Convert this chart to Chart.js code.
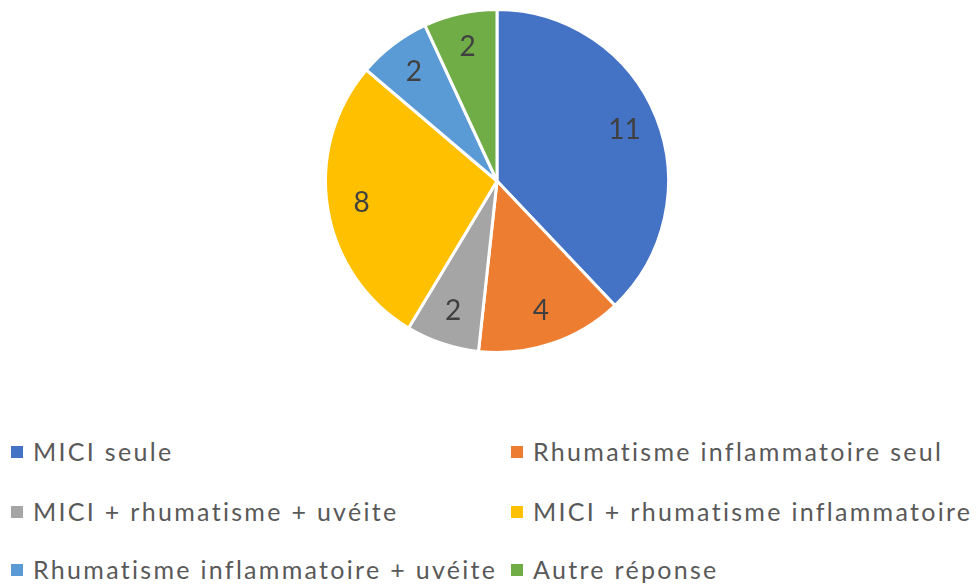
<!DOCTYPE html>
<html>
<head>
<meta charset="utf-8">
<script src="https://cdn.jsdelivr.net/npm/chart.js"></script>
<style>
  body { margin: 0; background: #fff; }
  #wrap { position: relative; width: 976px; height: 587px; }
  #pie { position: absolute; left: 0; top: 0; }
  .leg { position: absolute; font-family: Lato, sans-serif; font-size: 25px; letter-spacing: 2.3px;
         font-variant-ligatures: none; color: #595959; white-space: nowrap; }
  .leg span.box { position: absolute; width: 12px; height: 12px; left: -22px; top: 10px; }
</style>
</head>
<body>
<div id="wrap">
  <canvas id="pie" width="976" height="362"></canvas>
  <div id="legend"></div>
</div>
<script>
const labels = [
    'MICI seule',
    'Rhumatisme inflammatoire seul',
    'MICI + rhumatisme + uvéite',
    'MICI + rhumatisme inflammatoire',
    'Rhumatisme inflammatoire + uvéite',
    'Autre réponse'
];
const values = [11, 4, 2, 8, 2, 2];
const colors = ['#4472C4', '#ED7D31', '#A5A5A5', '#FFC000', '#5B9BD5', '#70AD47'];

// valeurs écrites dans les parts
const sliceLabels = {
    id: 'sliceLabels',
    afterDatasetsDraw(chart) {
        const c = chart.ctx;
        const meta = chart.getDatasetMeta(0);
        c.save();
        c.font = '28px Lato, sans-serif';
        c.fillStyle = '#404040';
        c.textAlign = 'center';
        c.textBaseline = 'middle';
        meta.data.forEach((arc, i) => {
            const p = arc.getProps(['x', 'y', 'startAngle', 'endAngle', 'outerRadius'], true);
            const mid = (p.startAngle + p.endAngle) / 2;
            const r = p.outerRadius * 0.8;
            c.fillText(String(values[i]), p.x + Math.cos(mid) * r, p.y + Math.sin(mid) * r);
        });
        c.restore();
    }
};

new Chart(document.getElementById('pie'), {
    type: 'pie',
    data: {
        labels: labels,
        datasets: [{
            data: values,
            backgroundColor: colors,
            borderColor: '#ffffff',
            borderWidth: 3
        }]
    },
    options: {
        responsive: false,
        animation: false,
        layout: { padding: { top: 8, bottom: 8, left: 18, right: 0 } },
        plugins: {
            legend: { display: false },
            tooltip: { enabled: false }
        }
    },
    plugins: [sliceLabels]
});

// légende en deux colonnes
const legend = document.getElementById('legend');
const colX = [33, 533];
const rowY = [436, 496, 554];
labels.forEach((lab, i) => {
    const d = document.createElement('div');
    d.className = 'leg';
    d.style.left = colX[i % 2] + 'px';
    d.style.top = rowY[Math.floor(i / 2)] + 'px';
    d.innerHTML = '<span class="box" style="background:' + colors[i] + '"></span>' + lab;
    legend.appendChild(d);
});
</script>
</body>
</html>
